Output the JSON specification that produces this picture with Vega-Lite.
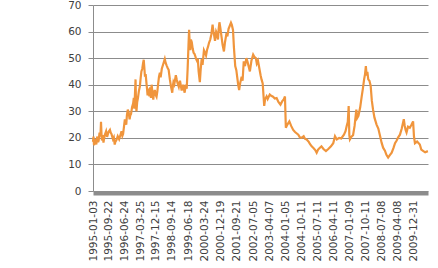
{
  "$schema": "https://vega.github.io/schema/vega-lite/v6.json",
  "width": 335,
  "height": 186,
  "autosize": {"type": "none"},
  "padding": {"left": 93, "top": 5, "right": 10, "bottom": 77},
  "background": "white",
  "config": {"view": {"stroke": null}},
  "data": {"values": [
    {"date": "1995-01-03", "v": 18.5}, {"date": "1995-01-12", "v": 20.5}, {"date": "1995-01-20", "v": 17.2}, {"date": "1995-02-01", "v": 18.8}, {"date": "1995-02-10", "v": 19.5},
    {"date": "1995-02-20", "v": 18.2}, {"date": "1995-03-01", "v": 17.5}, {"date": "1995-03-10", "v": 19.8}, {"date": "1995-03-20", "v": 20.5}, {"date": "1995-04-01", "v": 18.4}, {"date": "1995-04-10", "v": 19},
    {"date": "1995-04-25", "v": 22}, {"date": "1995-05-10", "v": 20.5}, {"date": "1995-05-20", "v": 26}, {"date": "1995-05-28", "v": 21.5}, {"date": "1995-06-05", "v": 19},
    {"date": "1995-06-20", "v": 21}, {"date": "1995-07-01", "v": 18.2}, {"date": "1995-07-10", "v": 19.5}, {"date": "1995-07-25", "v": 21.2}, {"date": "1995-08-15", "v": 22.5},
    {"date": "1995-09-01", "v": 20.4}, {"date": "1995-09-10", "v": 21}, {"date": "1995-09-25", "v": 22.2}, {"date": "1995-10-20", "v": 23}, {"date": "1995-11-01", "v": 22}, {"date": "1995-11-15", "v": 21.5},
    {"date": "1995-12-10", "v": 19.5}, {"date": "1995-12-25", "v": 20.2}, {"date": "1996-01-10", "v": 17.5}, {"date": "1996-01-22", "v": 18.6}, {"date": "1996-02-05", "v": 19},
    {"date": "1996-03-01", "v": 20.6}, {"date": "1996-03-25", "v": 19.5}, {"date": "1996-04-15", "v": 21}, {"date": "1996-05-05", "v": 22.5}, {"date": "1996-05-20", "v": 20.8},
    {"date": "1996-06-01", "v": 21.5}, {"date": "1996-06-15", "v": 24}, {"date": "1996-07-01", "v": 27}, {"date": "1996-07-12", "v": 25.8}, {"date": "1996-07-25", "v": 25}, {"date": "1996-08-05", "v": 28.5},
    {"date": "1996-08-20", "v": 30.6}, {"date": "1996-09-05", "v": 29.5}, {"date": "1996-09-20", "v": 27}, {"date": "1996-10-01", "v": 28.4}, {"date": "1996-10-15", "v": 29}, {"date": "1996-11-01", "v": 31.5},
    {"date": "1996-11-20", "v": 33}, {"date": "1996-12-01", "v": 35}, {"date": "1996-12-10", "v": 31}, {"date": "1996-12-20", "v": 36}, {"date": "1996-12-31", "v": 42},
    {"date": "1997-01-08", "v": 33}, {"date": "1997-01-15", "v": 30}, {"date": "1997-01-28", "v": 33.5}, {"date": "1997-02-10", "v": 35}, {"date": "1997-02-25", "v": 37.5}, {"date": "1997-03-15", "v": 39.4},
    {"date": "1997-03-28", "v": 42.5}, {"date": "1997-04-10", "v": 45}, {"date": "1997-04-25", "v": 46}, {"date": "1997-05-08", "v": 48}, {"date": "1997-05-20", "v": 49.4}, {"date": "1997-05-30", "v": 46.5}, {"date": "1997-06-10", "v": 43},
    {"date": "1997-06-22", "v": 44}, {"date": "1997-07-08", "v": 40}, {"date": "1997-07-16", "v": 38.2}, {"date": "1997-07-25", "v": 36}, {"date": "1997-08-05", "v": 38.5}, {"date": "1997-08-15", "v": 37},
    {"date": "1997-08-25", "v": 35.6}, {"date": "1997-09-05", "v": 39}, {"date": "1997-09-20", "v": 35}, {"date": "1997-10-01", "v": 40}, {"date": "1997-10-15", "v": 37.4},
    {"date": "1997-10-30", "v": 34.4}, {"date": "1997-11-10", "v": 36.8}, {"date": "1997-11-25", "v": 38}, {"date": "1997-12-10", "v": 36.2}, {"date": "1997-12-25", "v": 35.5},
    {"date": "1998-01-08", "v": 37.5}, {"date": "1998-01-20", "v": 40}, {"date": "1998-02-05", "v": 43}, {"date": "1998-02-20", "v": 44.5}, {"date": "1998-03-05", "v": 42.8}, {"date": "1998-03-25", "v": 46},
    {"date": "1998-04-15", "v": 47.5}, {"date": "1998-05-15", "v": 49.7}, {"date": "1998-05-30", "v": 48.2}, {"date": "1998-06-20", "v": 47}, {"date": "1998-07-05", "v": 46.2}, {"date": "1998-07-20", "v": 45.6},
    {"date": "1998-08-10", "v": 42}, {"date": "1998-08-28", "v": 39.5}, {"date": "1998-09-20", "v": 37}, {"date": "1998-09-30", "v": 39.5}, {"date": "1998-10-10", "v": 41}, {"date": "1998-10-25", "v": 40.2}, {"date": "1998-11-20", "v": 43.6},
    {"date": "1998-12-05", "v": 42}, {"date": "1998-12-20", "v": 40.6}, {"date": "1999-01-10", "v": 39.2}, {"date": "1999-01-30", "v": 41.5}, {"date": "1999-02-15", "v": 39.5}, {"date": "1999-02-28", "v": 37.8},
    {"date": "1999-03-25", "v": 40}, {"date": "1999-04-05", "v": 38.6}, {"date": "1999-04-20", "v": 37}, {"date": "1999-05-10", "v": 40}, {"date": "1999-05-25", "v": 38.5}, {"date": "1999-06-10", "v": 46},
    {"date": "1999-06-25", "v": 55}, {"date": "1999-07-05", "v": 60.7}, {"date": "1999-07-15", "v": 55.5}, {"date": "1999-07-25", "v": 53}, {"date": "1999-08-05", "v": 57}, {"date": "1999-08-20", "v": 56},
    {"date": "1999-09-05", "v": 53.5}, {"date": "1999-09-20", "v": 52}, {"date": "1999-10-05", "v": 51.6}, {"date": "1999-10-20", "v": 50.7}, {"date": "1999-11-05", "v": 49.5}, {"date": "1999-11-20", "v": 48.8},
    {"date": "1999-12-01", "v": 49.8}, {"date": "1999-12-15", "v": 45}, {"date": "2000-01-05", "v": 41}, {"date": "2000-01-20", "v": 46}, {"date": "2000-02-05", "v": 49.6}, {"date": "2000-02-20", "v": 47.5},
    {"date": "2000-03-15", "v": 53}, {"date": "2000-04-01", "v": 52.2}, {"date": "2000-04-20", "v": 51}, {"date": "2000-05-08", "v": 53.2}, {"date": "2000-05-25", "v": 54.4}, {"date": "2000-06-10", "v": 55.8},
    {"date": "2000-07-01", "v": 57}, {"date": "2000-07-20", "v": 59}, {"date": "2000-08-10", "v": 62.6}, {"date": "2000-08-22", "v": 60.2}, {"date": "2000-09-05", "v": 58.7}, {"date": "2000-09-20", "v": 56.5},
    {"date": "2000-10-10", "v": 60}, {"date": "2000-10-25", "v": 59.2}, {"date": "2000-11-10", "v": 57}, {"date": "2000-11-22", "v": 61}, {"date": "2000-12-05", "v": 63.5}, {"date": "2000-12-20", "v": 61.5},
    {"date": "2001-01-10", "v": 58}, {"date": "2001-01-28", "v": 55}, {"date": "2001-02-20", "v": 52.5}, {"date": "2001-03-10", "v": 56}, {"date": "2001-04-05", "v": 59.4},
    {"date": "2001-04-20", "v": 58.2}, {"date": "2001-05-10", "v": 61}, {"date": "2001-05-28", "v": 62}, {"date": "2001-06-20", "v": 63.3}, {"date": "2001-07-05", "v": 62.5}, {"date": "2001-07-25", "v": 60.6},
    {"date": "2001-08-10", "v": 54}, {"date": "2001-09-01", "v": 47}, {"date": "2001-09-20", "v": 45.5}, {"date": "2001-10-10", "v": 42}, {"date": "2001-10-22", "v": 40}, {"date": "2001-11-07", "v": 38},
    {"date": "2001-11-25", "v": 40.6}, {"date": "2001-12-20", "v": 43}, {"date": "2002-01-05", "v": 41.5}, {"date": "2002-01-25", "v": 48.8}, {"date": "2002-02-15", "v": 47}, {"date": "2002-03-10", "v": 50},
    {"date": "2002-04-01", "v": 48.5}, {"date": "2002-04-20", "v": 46.8}, {"date": "2002-05-10", "v": 45}, {"date": "2002-06-05", "v": 49}, {"date": "2002-07-05", "v": 51.3}, {"date": "2002-07-25", "v": 50.5}, {"date": "2002-08-20", "v": 50},
    {"date": "2002-09-05", "v": 48}, {"date": "2002-09-25", "v": 49}, {"date": "2002-10-20", "v": 46}, {"date": "2002-11-10", "v": 43.5}, {"date": "2002-11-25", "v": 42}, {"date": "2002-12-15", "v": 40.5}, {"date": "2003-01-10", "v": 32},
    {"date": "2003-01-25", "v": 34.5}, {"date": "2003-02-20", "v": 35.6}, {"date": "2003-03-10", "v": 34.6}, {"date": "2003-04-15", "v": 36.3}, {"date": "2003-05-10", "v": 35.8}, {"date": "2003-06-10", "v": 35.5},
    {"date": "2003-07-10", "v": 34.8}, {"date": "2003-08-10", "v": 35}, {"date": "2003-09-10", "v": 33.5}, {"date": "2003-10-15", "v": 32.5}, {"date": "2003-11-15", "v": 33.8}, {"date": "2003-12-10", "v": 34.5}, {"date": "2003-12-31", "v": 35.6},
    {"date": "2004-01-15", "v": 23.8}, {"date": "2004-02-10", "v": 25}, {"date": "2004-03-15", "v": 26.2}, {"date": "2004-04-15", "v": 24.5}, {"date": "2004-05-20", "v": 23},
    {"date": "2004-06-20", "v": 22.2}, {"date": "2004-08-15", "v": 21.2}, {"date": "2004-09-10", "v": 20.2}, {"date": "2004-10-10", "v": 20}, {"date": "2004-11-15", "v": 20.6}, {"date": "2004-12-10", "v": 19.6}, {"date": "2005-01-05", "v": 19.4},
    {"date": "2005-02-10", "v": 18.5}, {"date": "2005-03-05", "v": 17.6}, {"date": "2005-04-01", "v": 16.8}, {"date": "2005-05-01", "v": 16.2}, {"date": "2005-06-01", "v": 15.4}, {"date": "2005-06-25", "v": 14.4}, {"date": "2005-07-20", "v": 15.6},
    {"date": "2005-08-15", "v": 16.2}, {"date": "2005-09-15", "v": 16.8}, {"date": "2005-10-20", "v": 15.8}, {"date": "2005-12-01", "v": 15}, {"date": "2006-01-10", "v": 15.8}, {"date": "2006-02-25", "v": 16.8},
    {"date": "2006-04-05", "v": 18}, {"date": "2006-05-05", "v": 20.6}, {"date": "2006-06-05", "v": 19.4}, {"date": "2006-07-15", "v": 20}, {"date": "2006-08-20", "v": 19.8}, {"date": "2006-10-05", "v": 21.2},
    {"date": "2006-11-01", "v": 22.5}, {"date": "2006-11-20", "v": 24.4}, {"date": "2006-12-10", "v": 26}, {"date": "2006-12-25", "v": 32}, {"date": "2007-01-05", "v": 21}, {"date": "2007-01-15", "v": 19.4}, {"date": "2007-02-10", "v": 20.4}, {"date": "2007-03-10", "v": 21},
    {"date": "2007-04-05", "v": 24.5}, {"date": "2007-05-05", "v": 30.6}, {"date": "2007-05-20", "v": 27.5}, {"date": "2007-06-10", "v": 28.3}, {"date": "2007-07-10", "v": 31.5}, {"date": "2007-08-05", "v": 35.6},
    {"date": "2007-08-25", "v": 38.5}, {"date": "2007-09-15", "v": 42}, {"date": "2007-10-01", "v": 44}, {"date": "2007-10-15", "v": 47}, {"date": "2007-10-28", "v": 43.5}, {"date": "2007-11-10", "v": 44.8}, {"date": "2007-11-25", "v": 42},
    {"date": "2007-12-15", "v": 41.5}, {"date": "2008-01-05", "v": 39.6}, {"date": "2008-01-25", "v": 34}, {"date": "2008-02-15", "v": 30.6}, {"date": "2008-03-10", "v": 27.6}, {"date": "2008-04-15", "v": 25},
    {"date": "2008-05-15", "v": 23.5}, {"date": "2008-06-15", "v": 20.6}, {"date": "2008-07-10", "v": 18.2}, {"date": "2008-08-05", "v": 16.3}, {"date": "2008-09-05", "v": 15.2}, {"date": "2008-10-01", "v": 13.6}, {"date": "2008-10-30", "v": 12.6},
    {"date": "2008-11-25", "v": 13.4}, {"date": "2008-12-30", "v": 14.4}, {"date": "2009-01-30", "v": 16.2}, {"date": "2009-02-25", "v": 18}, {"date": "2009-03-25", "v": 19}, {"date": "2009-04-20", "v": 20.2}, {"date": "2009-05-20", "v": 21.2},
    {"date": "2009-06-20", "v": 23.5}, {"date": "2009-07-25", "v": 27}, {"date": "2009-08-10", "v": 24.5}, {"date": "2009-08-25", "v": 23}, {"date": "2009-09-10", "v": 22}, {"date": "2009-10-05", "v": 24.2}, {"date": "2009-11-05", "v": 23.8},
    {"date": "2009-12-05", "v": 25}, {"date": "2009-12-31", "v": 26.2}, {"date": "2010-01-15", "v": 20.5}, {"date": "2010-02-01", "v": 18}, {"date": "2010-03-10", "v": 18.6}, {"date": "2010-04-25", "v": 17.5},
    {"date": "2010-05-20", "v": 15.6}, {"date": "2010-06-25", "v": 15}, {"date": "2010-07-25", "v": 14.6}, {"date": "2010-09-10", "v": 15}
  ]},
  "mark": {"type": "line", "color": "#F0953C", "strokeWidth": 2.2},
  "encoding": {
    "x": {
      "field": "date", "type": "temporal",
      "scale": {"domain": ["1995-01-03", "2010-09-12"]},
      "axis": {
        "title": null,
        "values": ["1995-01-03", "1995-09-22", "1996-06-24", "1997-03-25", "1997-12-15", "1998-09-14", "1999-06-18", "2000-03-24", "2000-12-19", "2001-09-21", "2002-07-05", "2003-04-07", "2004-01-05", "2004-10-11", "2005-07-11", "2006-04-11", "2007-01-09", "2007-10-11", "2008-07-08", "2009-04-08", "2009-12-31"],
        "format": "%Y-%m-%d",
        "labelAngle": -90,
        "labelAlign": "right",
        "labelBaseline": "middle",
        "labelPadding": 7,
        "labelFont": "DejaVu Sans",
        "labelFontSize": 10.5,
        "labelColor": "#404040",
        "labelOverlap": false,
        "labelFlush": false,
        "ticks": false,
        "grid": false,
        "offset": 2,
        "domainColor": "#8c8c8c",
        "domainWidth": 4
      }
    },
    "y": {
      "field": "v", "type": "quantitative",
      "scale": {"domain": [0, 70]},
      "axis": {
        "title": null,
        "values": [0, 10, 20, 30, 40, 50, 60, 70],
        "labelFont": "DejaVu Sans",
        "labelFontSize": 10.5,
        "labelColor": "#404040",
        "labelPadding": 7,
        "tickSize": 5,
        "tickColor": "#8c8c8c",
        "domainColor": "#8c8c8c",
        "gridColor": "#8c8c8c",
        "gridWidth": 1
      }
    }
  }
}
